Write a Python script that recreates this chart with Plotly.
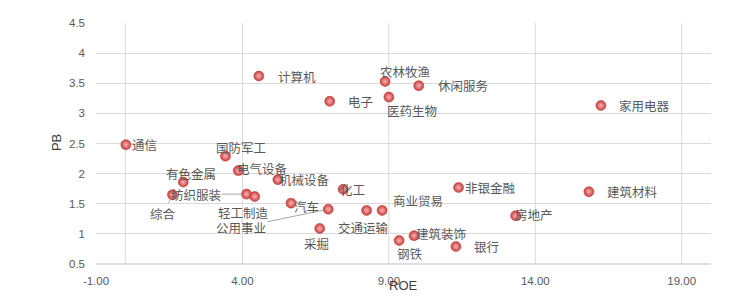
import plotly.graph_objects as go

# ---- data ----
industries = ["通信", "有色金属", "综合", "纺织服装", "轻工制造", "公用事业", "采掘",
              "国防军工", "电气设备", "机械设备", "化工", "汽车", "交通运输", "商业贸易",
              "钢铁", "建筑装饰", "银行", "非银金融", "房地产", "建筑材料", "家用电器",
              "计算机", "农林牧渔", "休闲服务", "电子", "医药生物"]
roe = [0.02, 1.98, 1.61, 4.14, 4.42, 6.93, 6.64,
       3.42, 3.86, 5.21, 7.44, 5.66, 8.24, 8.77,
       9.35, 9.86, 11.29, 11.38, 13.33, 15.83, 16.24,
       4.56, 8.87, 10.02, 6.98, 9.00]
pb = [2.48, 1.86, 1.65, 1.66, 1.62, 1.41, 1.09,
      2.29, 2.05, 1.90, 1.74, 1.51, 1.39, 1.39,
      0.89, 0.97, 0.79, 1.77, 1.30, 1.70, 3.13,
      3.62, 3.53, 3.46, 3.20, 3.27]
x_ticks = [-1, 4, 9, 14, 19]
x_tick_text = ["-1.00", "4.00", "9.00", "14.00", "19.00"]
y_ticks = [0.5, 1, 1.5, 2, 2.5, 3, 3.5, 4, 4.5]
y_tick_text = ["0.5", "1", "1.5", "2", "2.5", "3", "3.5", "4", "4.5"]

# ---- label placement (pixel offsets of label centre from point: dx right, dy down) ----
label_offsets = {
    "通信": (19, 0), "有色金属": (8, -9), "综合": (-9, 19), "纺织服装": (-51, 0),
    "轻工制造": (-11, 16), "公用事业": (-87, 18), "采掘": (-3, 15), "国防军工": (16, -9),
    "电气设备": (24, -2), "机械设备": (27, 0), "化工": (9, 0), "汽车": (15, 3),
    "交通运输": (-3, 17), "商业贸易": (36, -10), "钢铁": (11, 13), "建筑装饰": (27, -2),
    "银行": (31, 0), "非银金融": (32, 0), "房地产": (18, -1), "建筑材料": (44, 0),
    "家用电器": (44, 0), "计算机": (38, 0), "农林牧渔": (20, -10), "休闲服务": (44, 0),
    "电子": (31, 0), "医药生物": (23, 13),
}
leader_lines = {"综合", "纺织服装", "公用事业"}

label_font = dict(family="Noto Sans CJK SC", size=12.5, color="#595959")
tick_font = dict(family="Liberation Sans", size=11.5, color="#595959")
grid_color = "#d9d9d9"

fig = go.Figure()
fig.add_trace(go.Scatter(
    x=roe, y=pb, mode="markers", text=industries, hoverinfo="text",
    marker=dict(size=10, color="#cc3d3d",
                gradient=dict(type="radial", color="#f7b4b4"),
                line=dict(width=0.5, color="#b03030")),
    showlegend=False,
))

annotations = []
for name, xv, yv in zip(industries, roe, pb):
    dx, dy = label_offsets[name]
    if name in leader_lines:
        annotations.append(dict(
            x=xv, y=yv, xref="x", yref="y", text=name, showarrow=True,
            ax=dx, ay=dy, arrowhead=0, arrowwidth=1, arrowcolor="#a6a6a6",
            standoff=5, font=label_font))
    else:
        annotations.append(dict(
            x=xv, y=yv, xref="x", yref="y", text=name, showarrow=False,
            xshift=dx, yshift=-dy, font=label_font))

annotations.append(dict(x=0.5, y=-0.09, xref="paper", yref="paper", text="ROE",
                        showarrow=False, yanchor="middle",
                        font=dict(family="Liberation Sans", size=13, color="#404040")))
annotations.append(dict(x=-0.08, y=0.503, xref="paper", yref="paper", text="PB",
                        showarrow=False, textangle=-90,
                        font=dict(family="Liberation Sans", size=13, color="#404040")))

# vertical gridlines at every x tick except the left boundary, plus the value-axis line at 0
shapes = [dict(type="line", xref="x", yref="paper", x0=v, x1=v, y0=0, y1=1,
               line=dict(color=grid_color, width=1), layer="below")
          for v in x_ticks[1:] + [0]]
shapes.append(dict(type="line", xref="paper", yref="paper", x0=0, x1=1, y0=0, y1=0,
                   line=dict(color="#bfbfbf", width=1)))

fig.update_layout(
    width=740, height=299,
    margin=dict(l=96, r=29, t=23, b=32),
    paper_bgcolor="white", plot_bgcolor="white",
    annotations=annotations,
    shapes=shapes,
    xaxis=dict(range=[-1, 20], tickvals=x_ticks, ticktext=x_tick_text,
               showgrid=False, zeroline=False,
               showline=False, ticks="", tickfont=tick_font, ticklabelstandoff=8),
    yaxis=dict(range=[0.5, 4.5], tickvals=y_ticks, ticktext=y_tick_text,
               showgrid=True, gridcolor=grid_color, gridwidth=1,
               zeroline=False, showline=False, ticks="", tickfont=tick_font,
               ticklabelstandoff=10),
)

fig.write_html("out.html")
